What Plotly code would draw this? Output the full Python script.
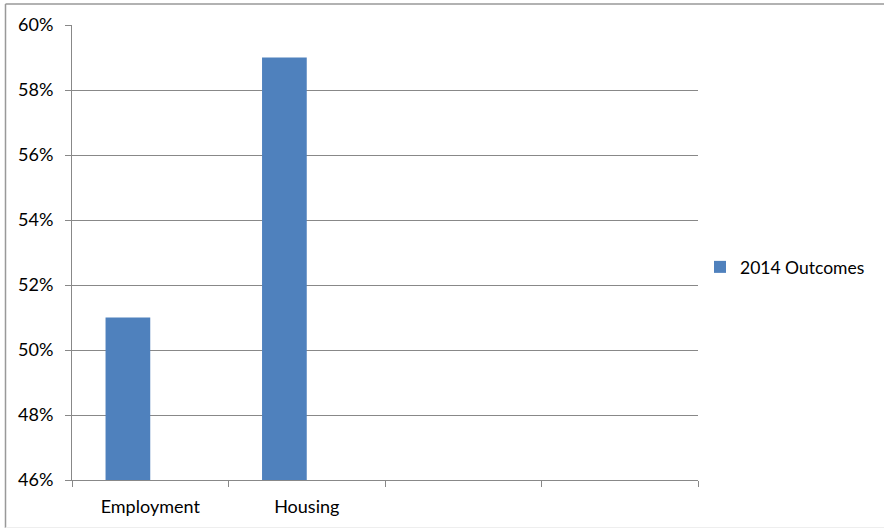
import plotly.graph_objects as go

categories = ["Employment", "Housing", " ", "  "]
outcomes_2014 = [0.51, 0.59, None, None]
hidden_series = [None, None, None, None]
y_ticks = [0.46, 0.48, 0.50, 0.52, 0.54, 0.56, 0.58, 0.60]

W, H = 884, 529
L, R, T, B = 72, 698, 25, 480

def px(x):
    return (x - L) / (R - L)

def py(y):
    return (B - y) / (B - T)

fig = go.Figure()
fig.add_trace(go.Bar(x=categories, y=outcomes_2014, name="2014 Outcomes",
                     marker=dict(color="#4F81BD", line=dict(width=0))))
fig.add_trace(go.Bar(x=categories, y=hidden_series, name="hidden",
                     showlegend=False, marker=dict(color="#C0504D")))

fig.update_layout(
    width=W, height=H,
    margin=dict(l=L, r=W - R, t=T, b=H - B),
    paper_bgcolor="white", plot_bgcolor="white",
    barmode="group", bargap=1.5 / 3.5, bargroupgap=0,
    font=dict(family="Lato", size=18, color="#000000"),
    showlegend=True,
    legend=dict(x=px(700), y=py(267), xanchor="left", yanchor="middle",
                font=dict(size=17.5), itemwidth=30, tracegroupgap=0,
                bgcolor="rgba(0,0,0,0)", borderwidth=0),
    xaxis=dict(type="category", tickson="boundaries", ticks="outside",
               ticklen=6, tickcolor="#888888", showline=True,
               linecolor="#888888", linewidth=1, showgrid=False,
               ticklabelstandoff=10,
               categoryorder="array", categoryarray=categories),
    yaxis=dict(range=[0.46, 0.60], tickvals=y_ticks, tickformat=".0%",
               ticks="outside", ticklen=6, tickcolor="#888888",
               showline=True, linecolor="#888888", linewidth=1,
               showgrid=True, gridcolor="#888888", gridwidth=1,
               ticklabelstandoff=8, zeroline=False),
    shapes=[
        dict(type="line", xref="paper", yref="paper", x0=px(5.5), x1=px(890),
             y0=py(4), y1=py(4), line=dict(color="#999999", width=1.5)),
        dict(type="line", xref="paper", yref="paper", x0=px(5.5), x1=px(5.5),
             y0=py(4), y1=py(528), line=dict(color="#999999", width=1.5)),
        dict(type="line", xref="paper", yref="paper", x0=px(5.5), x1=px(890),
             y0=py(527.5), y1=py(527.5), line=dict(color="#eeeeee", width=1)),
    ],
)

fig.write_html("out.html", config={"displayModeBar": False},
               post_script="document.body.style.margin='0px';")
